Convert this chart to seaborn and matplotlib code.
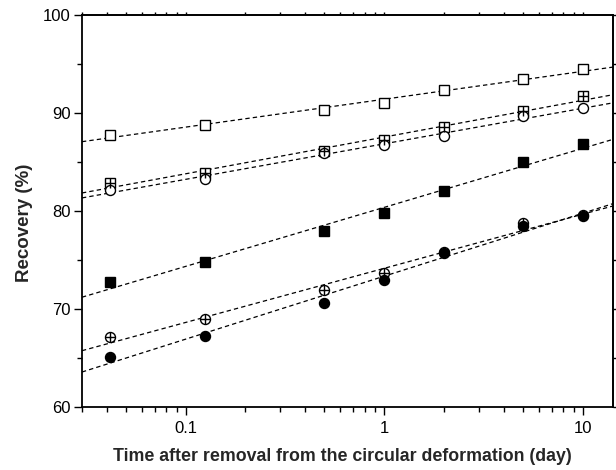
import numpy as np
import pandas as pd
import matplotlib
matplotlib.use("Agg")
import matplotlib.pyplot as plt
import seaborn as sns
from matplotlib.ticker import LogLocator, FixedLocator, NullFormatter, FuncFormatter

sns.set_theme(style="ticks")
plt.rcParams['font.family'] = ['Liberation Sans', 'DejaVu Sans']

# Time after removal (day)
time_day = [1/24, 1/8, 0.5, 1, 2, 5, 10]

# Recovery (%) for each series
open_square = [87.8, 88.8, 90.3, 91.0, 92.3, 93.5, 94.5]
crossed_square = [82.9, 83.9, 86.15, 87.2, 88.6, 90.2, 91.7]
open_circle = [82.1, 83.3, 85.95, 86.7, 87.65, 89.7, 90.5]
filled_square = [72.75, 74.8, 77.95, 79.8, 82.0, 85.0, 86.8]
crossed_circle = [67.1, 69.0, 71.9, 73.65, 75.85, 78.75, 79.6]
filled_circle = [65.1, 67.25, 70.6, 73.0, 75.75, 78.5, 79.5]

series = [
    ("open_square", open_square, "s", "none", False),
    ("crossed_square", crossed_square, "s", "none", True),
    ("open_circle", open_circle, "o", "none", False),
    ("filled_square", filled_square, "s", "black", False),
    ("crossed_circle", crossed_circle, "o", "none", True),
    ("filled_circle", filled_circle, "o", "black", False),
]

XLIM = (0.030, 14.2)
YLIM = (60, 100)

fig = plt.figure(figsize=(6.16, 4.70), dpi=100)
ax = fig.add_axes([0.133, 0.134, 0.862, 0.834])
ax.set_xscale("log")
ax.set_xlim(*XLIM)
ax.set_ylim(*YLIM)

for name, vals, mk, fc, crossed in series:
    df = pd.DataFrame({"t": time_day, "r": vals})
    ax.set_xlim(*XLIM)
    sns.regplot(data=df, x="t", y="r", logx=True, ci=None, truncate=False,
                scatter=False, ax=ax,
                line_kws=dict(color="black", lw=0.9, ls=(0, (3.5, 2.5))))
    ms = 6.6 if mk == "s" else 7.2
    ax.plot(time_day, vals, ls="none", marker=mk, ms=ms, mfc=fc if fc != "none" else "white",
            mec="black", mew=1.0, zorder=3)
    if crossed:
        ax.plot(time_day, vals, ls="none", marker="+", ms=ms, mec="black", mew=1.0, zorder=4)

ax.set_xlim(*XLIM)
ax.set_ylim(*YLIM)
ax.yaxis.set_major_locator(FixedLocator([60, 70, 80, 90, 100]))
ax.yaxis.set_minor_locator(FixedLocator([65, 75, 85, 95]))
ax.xaxis.set_major_locator(FixedLocator([0.1, 1, 10]))
ax.xaxis.set_minor_locator(LogLocator(base=10, subs=np.arange(2, 10), numticks=20))
ax.xaxis.set_minor_formatter(NullFormatter())
ax.xaxis.set_major_formatter(FuncFormatter(lambda v, p: {0.1: "0.1", 1: "1", 10: "10"}.get(round(v, 3), "")))

for s in ax.spines.values():
    s.set_visible(True)
    s.set_color("black")
    s.set_linewidth(1.3)

ax.tick_params(which="both", direction="out", colors="black", labelsize=12, width=1.0,
               top=False, right=False)
ax.tick_params(which="major", length=6)
ax.tick_params(which="minor", length=3.5)
ax.tick_params(axis="x", which="major", pad=4)
ax.tick_params(axis="y", which="major", pad=2)
ax.grid(False)

# short ticks on top and right edges
top = ax.secondary_xaxis("top")
top.xaxis.set_major_locator(FixedLocator([0.1, 1, 10]))
top.xaxis.set_minor_locator(LogLocator(base=10, subs=np.arange(2, 10), numticks=20))
top.xaxis.set_major_formatter(NullFormatter())
top.xaxis.set_minor_formatter(NullFormatter())
top.tick_params(which="both", direction="out", length=2.5, width=1.0, colors="black")
top.spines["top"].set_linewidth(1.3)

right = ax.secondary_yaxis("right")
right.yaxis.set_major_locator(FixedLocator([60, 70, 80, 90, 100]))
right.yaxis.set_minor_locator(FixedLocator([65, 75, 85, 95]))
right.yaxis.set_major_formatter(NullFormatter())
right.tick_params(which="both", direction="out", length=2.5, width=1.0, colors="black")
right.spines["right"].set_linewidth(1.3)

ax.set_xlabel("Time after removal from the circular deformation (day)", fontsize=12.8,
              fontweight="bold")
ax.set_ylabel("Recovery (%)", fontsize=13.5, fontweight="bold")
ax.xaxis.set_label_coords(0.491, -0.105)
ax.yaxis.set_label_coords(-0.092, 0.47)

fig.savefig("out.png", dpi=100)
